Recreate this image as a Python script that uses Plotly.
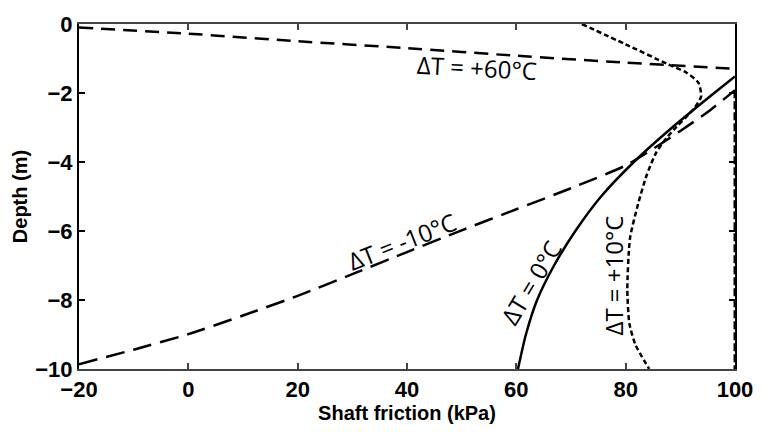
import plotly.graph_objects as go

# Data
friction_p60 = [-20, 0, 20, 40, 60, 80, 100]
depth_p60 = [-0.1, -0.28, -0.5, -0.7, -0.92, -1.12, -1.3]

friction_m10 = [-20, -10, 0, 10, 20, 30, 40, 50, 60, 70, 80, 85, 90, 95, 100]
depth_m10 = [-9.86, -9.44, -8.99, -8.45, -7.88, -7.25, -6.61, -5.98, -5.37, -4.76, -4.1, -3.62, -3.1, -2.55, -1.92]

friction_cap = [100, 100]
depth_cap = [-1.92, -10]

friction_0 = [60.3, 61.75, 63.8, 66.9, 70.8, 75.5, 81.5, 88.5, 96.2, 100]
depth_0 = [-10, -9, -8, -7, -6, -5, -4, -3, -2, -1.52]

friction_p10 = [72, 80, 87.5, 91, 93.3, 93.8, 92.5, 89.3, 87.5, 85.6, 83.8, 82.3, 80.8, 80.3, 80.7, 81.8, 84.3]
depth_p10 = [0, -0.59, -1.15, -1.4, -1.7, -2.1, -2.45, -2.98, -3.3, -3.72, -4.4, -5.2, -6.2, -7.7, -8.7, -9.3, -10]

x_range = [-20, 100]
y_range = [-10, 0]
x_ticks = [-20, 0, 20, 40, 60, 80, 100]
y_ticks = [0, -2, -4, -6, -8, -10]
x_ticktext = ["<b>%s</b>" % str(v).replace("-", "\u2212") for v in x_ticks]
y_ticktext = ["<b>%s</b>" % str(v).replace("-", "\u2212") for v in y_ticks]

labels = ["ΔT = +60°C", "ΔT = -10°C", "ΔT = 0°C", "ΔT = +10°C"]

W, H = 765, 432
ML, MR, MT, MB = 79, 25, 23, 60

fig = go.Figure()

fig.add_trace(go.Scatter(x=friction_p60, y=depth_p60, mode="lines",
                         line=dict(color="black", width=2.5, dash="14px,8px", shape="spline", smoothing=0.6)))
fig.add_trace(go.Scatter(x=friction_m10, y=depth_m10, mode="lines",
                         line=dict(color="black", width=2.5, dash="19px,9px", shape="spline", smoothing=0.6)))
fig.add_trace(go.Scatter(x=friction_cap, y=depth_cap, mode="lines", cliponaxis=False,
                         line=dict(color="black", width=3, dash="8px,3px")))
fig.add_trace(go.Scatter(x=friction_0, y=depth_0, mode="lines",
                         line=dict(color="black", width=2.5, shape="spline", smoothing=0.6)))
fig.add_trace(go.Scatter(x=friction_p10, y=depth_p10, mode="lines",
                         line=dict(color="black", width=2.5, dash="5px,3px", shape="spline", smoothing=0.6)))

ann_font = dict(family="Open Sans", size=24, color="black")
fig.add_annotation(x=52.8, y=-1.25, text=labels[0], showarrow=False, textangle=3, font=ann_font)
fig.add_annotation(x=39.0, y=-6.3, text=labels[1], showarrow=False, textangle=-21.5, font=ann_font)
fig.add_annotation(x=62.7, y=-7.5, text=labels[2], showarrow=False, textangle=-59, font=ann_font)
fig.add_annotation(x=77.8, y=-7.3, text=labels[3], showarrow=False, textangle=-90, font=ann_font)

tick_font = dict(family="Liberation Sans", size=22, color="black")
title_font = dict(family="Liberation Sans", size=20, color="black")

fig.update_xaxes(range=x_range, tickvals=x_ticks, ticktext=x_ticktext,
                 showgrid=False, zeroline=False, showline=True, linecolor="#444444", linewidth=2,
                 mirror="ticks", ticks="inside", ticklen=6, tickwidth=2, tickcolor="#444444",
                 tickfont=tick_font,
                 title=dict(text="<b>Shaft friction (kPa)</b>", font=title_font, standoff=4))
fig.update_yaxes(range=y_range, tickvals=y_ticks, ticktext=y_ticktext,
                 showgrid=False, zeroline=False, showline=True, linecolor="black", linewidth=2,
                 mirror="ticks", ticks="inside", ticklen=6, tickwidth=2, tickcolor="black",
                 tickfont=tick_font,
                 title=dict(text="<b>Depth (m)</b>", font=title_font, standoff=2))

fig.update_layout(width=W, height=H, margin=dict(l=ML, r=MR, t=MT, b=MB),
                  plot_bgcolor="white", paper_bgcolor="white", showlegend=False)

fig.write_html("out.html")
